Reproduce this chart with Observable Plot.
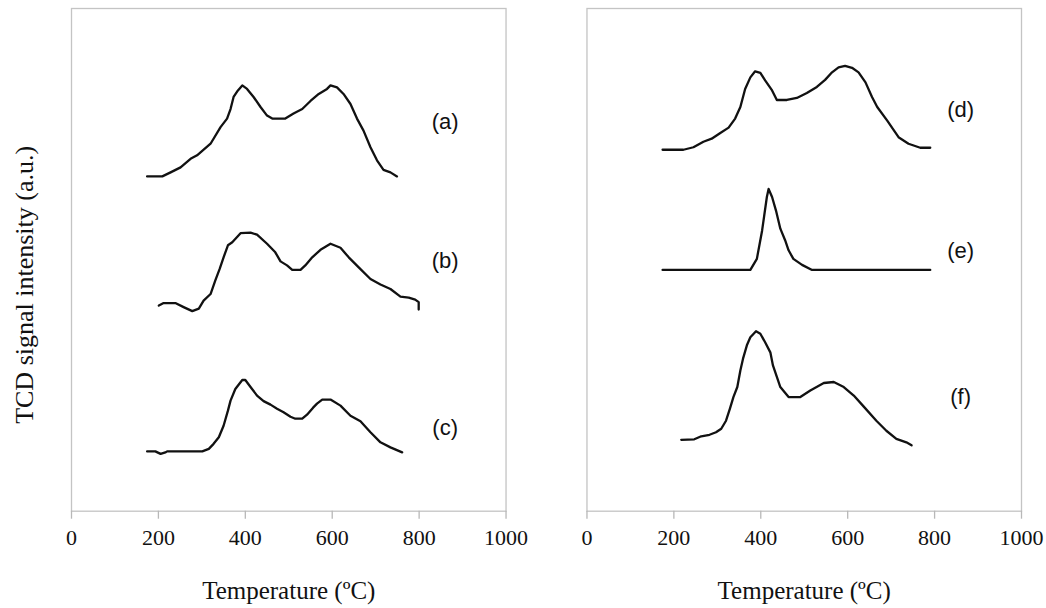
<!DOCTYPE html>
<html>
<head>
<meta charset="utf-8">
<script src="https://cdn.jsdelivr.net/npm/d3@7"></script>
<script src="https://cdn.jsdelivr.net/npm/@observablehq/plot@0.6"></script>
<style>
  html, body { margin: 0; padding: 0; background: #fff; }
</style>
</head>
<body>
<div id="chart"></div>
<script>
// ---- data (temperature in °C, TCD signal in arbitrary units incl. vertical offset) ----
const panelNames = ["left", "right"];
const xTicks = [0, 200, 400, 600, 800, 1000];
const xTitle = "Temperature (ºC)";
const yTitle = "TCD signal intensity (a.u.)";

const seriesNames = ["(a)", "(b)", "(c)", "(d)", "(e)", "(f)"];
const seriesPanel = ["left", "left", "left", "right", "right", "right"];
const labelY = [77.5, 49.7, 16.6, 79.9, 51.7, 22.8];
const labelX = [860, 860, 860, 860, 860, 860];

const tempA = [174, 209, 228, 251, 274, 289, 320, 343, 358, 366, 373, 383, 393, 404, 419, 435, 450, 462, 492, 511, 531, 550, 569, 588, 596, 611, 626, 642, 657, 672, 688, 703, 718, 734, 749];
const sigA  = [66.6, 66.6, 67.4, 68.4, 70.1, 70.8, 73.1, 76.4, 78.1, 80.0, 82.4, 83.7, 84.7, 84.0, 82.4, 80.4, 78.7, 78.1, 78.1, 79.1, 80.0, 81.6, 83.0, 84.0, 84.7, 84.3, 83.0, 81.0, 78.1, 75.7, 72.4, 69.8, 67.9, 67.4, 66.6];

const tempB = [201, 212, 239, 258, 278, 293, 304, 320, 331, 341, 350, 360, 370, 389, 412, 427, 450, 469, 481, 496, 508, 527, 538, 554, 573, 596, 619, 638, 661, 688, 711, 734, 757, 776, 791, 799, 799];
const sigB  = [40.9, 41.4, 41.4, 40.6, 39.8, 40.3, 41.9, 43.2, 45.9, 48.2, 50.5, 52.9, 53.5, 55.3, 55.4, 55.0, 53.2, 51.5, 49.7, 48.9, 48.0, 48.0, 48.9, 50.5, 52.0, 53.2, 52.4, 50.5, 48.5, 46.2, 45.1, 44.2, 42.7, 42.5, 42.1, 41.6, 40.1];

const tempC = [174, 193, 205, 216, 220, 301, 316, 327, 339, 350, 360, 366, 377, 393, 400, 412, 427, 442, 458, 473, 488, 504, 515, 531, 542, 556, 565, 577, 596, 619, 642, 665, 688, 711, 734, 761];
const sigC  = [11.9, 11.9, 11.4, 11.7, 11.9, 11.9, 12.4, 13.4, 14.7, 17.0, 20.0, 22.0, 24.3, 26.1, 26.1, 24.7, 23.0, 21.9, 21.2, 20.4, 19.7, 18.8, 18.4, 18.4, 19.2, 20.6, 21.4, 22.2, 22.2, 21.0, 19.0, 17.9, 15.7, 13.7, 12.7, 11.7];

const tempD = [174, 222, 245, 268, 287, 306, 326, 341, 353, 364, 376, 387, 399, 410, 426, 437, 460, 483, 506, 529, 548, 564, 579, 594, 610, 625, 641, 656, 668, 691, 717, 740, 767, 790];
const sigD  = [71.9, 71.9, 72.4, 73.5, 74.1, 75.2, 76.3, 78.1, 80.4, 84.0, 86.3, 87.5, 87.2, 85.7, 83.7, 81.8, 81.8, 82.2, 83.2, 84.4, 85.8, 87.3, 88.3, 88.6, 88.2, 87.3, 85.3, 82.4, 80.4, 77.7, 74.4, 73.1, 72.3, 72.3];

const tempE = [174, 376, 391, 403, 414, 418, 426, 435, 445, 456, 464, 475, 495, 518, 790];
const sigE  = [48.0, 48.0, 50.2, 55.8, 62.5, 64.1, 62.5, 59.8, 56.2, 53.9, 51.9, 50.2, 49.0, 48.0, 48.0];

const tempF = [217, 247, 263, 282, 297, 309, 320, 329, 337, 346, 353, 359, 368, 376, 389, 399, 410, 422, 428, 437, 445, 464, 491, 514, 545, 568, 591, 614, 637, 666, 689, 712, 735, 747];
const sigF  = [14.2, 14.3, 14.9, 15.2, 15.7, 16.4, 18.0, 20.4, 22.7, 24.7, 28.0, 30.3, 33.0, 34.6, 35.8, 35.3, 33.6, 31.6, 29.0, 26.7, 24.7, 22.7, 22.7, 24.0, 25.5, 25.7, 24.7, 23.0, 20.8, 18.0, 16.0, 14.4, 13.7, 13.1];

// ---- build tables ----
const temps = [tempA, tempB, tempC, tempD, tempE, tempF];
const sigs = [sigA, sigB, sigC, sigD, sigE, sigF];
const rows = [];
seriesNames.forEach((name, i) => {
  temps[i].forEach((t, j) => rows.push({panel: seriesPanel[i], series: name, t, s: sigs[i][j]}));
});
const labelRows = seriesNames.map((name, i) => ({panel: seriesPanel[i], name, x: labelX[i], y: labelY[i]}));

const chart = Plot.plot({
  width: 1046,
  height: 608,
  marginLeft: 71,
  marginRight: 25,
  marginTop: 8,
  marginBottom: 97.3,
  style: {fontFamily: "'Liberation Serif', 'Times New Roman', serif", fontSize: "22px", color: "#111", background: "#fff"},
  fx: {domain: panelNames, paddingInner: 0.157, paddingOuter: 0, round: false, axis: null, label: null},
  x: {domain: [0, 1000]},
  y: {domain: [0, 100], axis: null},
  marks: [
    Plot.frame({stroke: "#c4c4c4", strokeWidth: 1.3}),
    Plot.axisX({ticks: xTicks, tickSize: 8, tickPadding: 10.5, stroke: "#b8b8b8", strokeWidth: 1.3, fill: "#111", label: null, tickFormat: d3.format("d")}),
    Plot.line(rows, {fx: "panel", x: "t", y: "s", z: "series", stroke: "#111", strokeWidth: 2.3, strokeLinejoin: "round"}),
    Plot.text(labelRows, {fx: "panel", x: "x", y: "y", text: "name", fontFamily: "'Liberation Sans', Arial, sans-serif", fontSize: 22, fill: "#111"}),
    Plot.text([xTitle], {text: d => d, frameAnchor: "bottom", dy: 80, lineAnchor: "middle", fontSize: 25, fill: "#111"}),
    Plot.text([{panel: "left", label: yTitle}], {fx: "panel", text: "label", frameAnchor: "left", textAnchor: "middle", lineAnchor: "middle", rotate: -90, dx: -47, dy: 25, fontSize: 26, fill: "#111"})
  ]
});
document.getElementById("chart").appendChild(chart);
</script>
</body>
</html>
